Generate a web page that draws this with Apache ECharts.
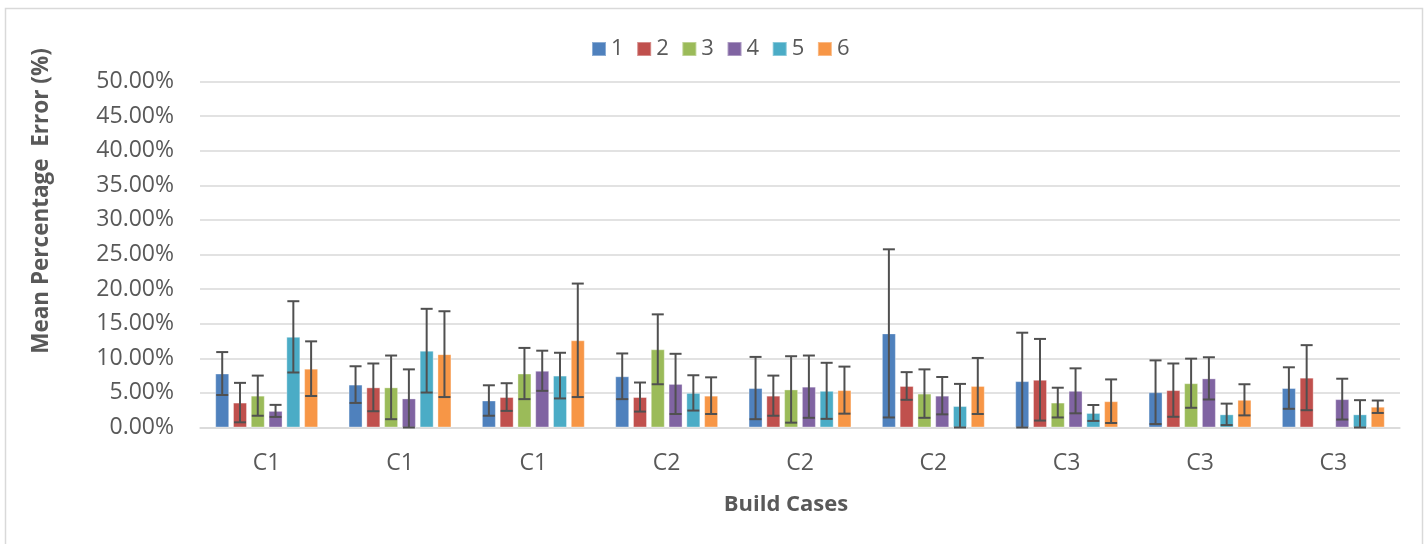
<!DOCTYPE html>
<html>
<head>
<meta charset="utf-8">
<script src="https://cdn.jsdelivr.net/npm/echarts@6/dist/echarts.min.js"></script>
<style>
html,body{margin:0;padding:0;background:#fff;}
#chart{width:1428px;height:544px;}
</style>
</head>
<body>
<div id="chart"></div>
<script>
// Category labels (build cases)
const categories = ['C1','C1','C1','C2','C2','C2','C3','C3','C3'];
const seriesNames = ['1','2','3','4','5','6'];
const yTicks = [0,5,10,15,20,25,30,35,40,45,50];
const xTitle = 'Build Cases';
const yTitle = 'Mean Percentage  Error (%)';

// Mean percentage error (%) per series
const s1 = [7.8, 6.2, 3.9, 7.4, 5.7, 13.6, 6.7, 5.1, 5.7];
const s2 = [3.6, 5.8, 4.4, 4.4, 4.6, 6.0, 6.9, 5.4, 7.2];
const s3 = [4.6, 5.8, 7.8, 11.3, 5.5, 4.9, 3.6, 6.4, null];
const s4 = [2.4, 4.2, 8.2, 6.3, 5.9, 4.6, 5.3, 7.1, 4.1];
const s5 = [13.1, 11.1, 7.5, 5.0, 5.3, 3.1, 2.1, 1.9, 1.9];
const s6 = [8.5, 10.6, 12.6, 4.6, 5.4, 6.0, 3.8, 4.0, 3.0];

// Error bar half-widths (%) per series
const e1 = [3.1, 2.65, 2.2, 3.3, 4.5, 12.15, 7.0, 4.6, 3.0];
const e2 = [2.85, 3.45, 2.0, 2.1, 2.9, 2.0, 5.9, 3.85, 4.7];
const e3 = [2.9, 4.6, 3.7, 5.05, 4.8, 3.5, 2.15, 3.55, null];
const e4 = [0.87, 4.2, 2.9, 4.35, 4.5, 2.7, 3.25, 3.05, 2.95];
const e5 = [5.15, 6.05, 3.3, 2.55, 4.05, 3.2, 1.15, 1.55, 2.05];
const e6 = [3.95, 6.2, 8.2, 2.65, 3.4, 4.05, 3.15, 2.25, 0.9];

const means = [s1, s2, s3, s4, s5, s6];
const errs = [e1, e2, e3, e4, e5, e6];
const colors = ['#4F81BD','#C0504D','#9BBB59','#8064A2','#4BACC6','#F79646'];

const BAR_W = 14;
const BAR_GAP = 0.27;
const STEP = BAR_W * (1 + BAR_GAP);
const TEXT = '#595959';
const FONT = 'Open Sans';

const chart = echarts.init(document.getElementById('chart'), null, {renderer: 'canvas'});

const series = [];
means.forEach((m, i) => {
  series.push({
    name: seriesNames[i],
    type: 'bar',
    data: m,
    barWidth: BAR_W,
    barGap: (BAR_GAP * 100) + '%',
    itemStyle: {color: colors[i], borderColor: 'rgba(255,255,255,0.35)', borderWidth: 1},
    emphasis: {disabled: true},
    z: 2
  });
});
means.forEach((m, i) => {
  const errData = m.map((v, k) => (v == null || errs[i][k] == null) ? null : [k, v - errs[i][k], v + errs[i][k]]).filter(d => d);
  series.push({
    name: 'err' + seriesNames[i],
    type: 'custom',
    data: errData,
    z: 5,
    silent: true,
    renderItem: function (params, api) {
      const k = api.value(0);
      const lo = Math.max(0, api.value(1));
      const hi = api.value(2);
      const pLo = api.coord([k, lo]);
      const pHi = api.coord([k, hi]);
      const x = pLo[0] + (i - 2.5) * STEP;
      const cap = 6;
      const st = {stroke: '#505050', lineWidth: 2};
      return {
        type: 'group',
        children: [
          {type: 'line', shape: {x1: x, y1: pLo[1], x2: x, y2: pHi[1]}, style: st},
          {type: 'line', shape: {x1: x - cap, y1: pHi[1], x2: x + cap, y2: pHi[1]}, style: st},
          {type: 'line', shape: {x1: x - cap, y1: pLo[1], x2: x + cap, y2: pLo[1]}, style: st}
        ]
      };
    }
  });
});

const option = {
  animation: false,
  backgroundColor: '#ffffff',
  textStyle: {fontFamily: FONT},
  graphic: [{
    type: 'rect',
    shape: {x: 5.5, y: 8.5, width: 1417, height: 560},
    style: {fill: 'none', stroke: '#d9d9d9', lineWidth: 1.5},
    silent: true
  }, {
    type: 'text',
    x: 42, y: 201,
    rotation: Math.PI / 2,
    style: {text: yTitle, fill: TEXT, font: 'bold 22.5px "Open Sans"', align: 'center', verticalAlign: 'middle'},
    silent: true
  }, {
    type: 'text',
    x: 786, y: 505,
    style: {text: xTitle, fill: TEXT, font: 'bold 22px "Open Sans"', align: 'center', verticalAlign: 'middle'},
    silent: true
  }],
  legend: {
    data: seriesNames,
    top: 33,
    left: 586,
    itemWidth: 14,
    itemHeight: 14,
    itemGap: 12.6,
    icon: 'rect',
    textStyle: {fontSize: 22, color: TEXT, fontFamily: FONT}
  },
  grid: {left: 200, right: 28, top: 81.5, bottom: 116.5, containLabel: false},
  xAxis: {
    type: 'category',
    data: categories,
    axisLine: {lineStyle: {color: '#d9d9d9', width: 1.5}},
    axisTick: {show: false},
    axisLabel: {fontSize: 23, color: TEXT, margin: 24, fontFamily: FONT}
  },
  yAxis: {
    type: 'value',
    min: yTicks[0],
    max: yTicks[yTicks.length - 1],
    interval: yTicks[1] - yTicks[0],
    axisLine: {show: false},
    axisTick: {show: false},
    splitLine: {lineStyle: {color: '#d9d9d9', width: 1.5}},
    axisLabel: {fontSize: 23, color: TEXT, margin: 26, fontFamily: FONT,
      formatter: v => v.toFixed(2) + '%'}
  },
  series: series
};
chart.setOption(option);
</script>
</body>
</html>
